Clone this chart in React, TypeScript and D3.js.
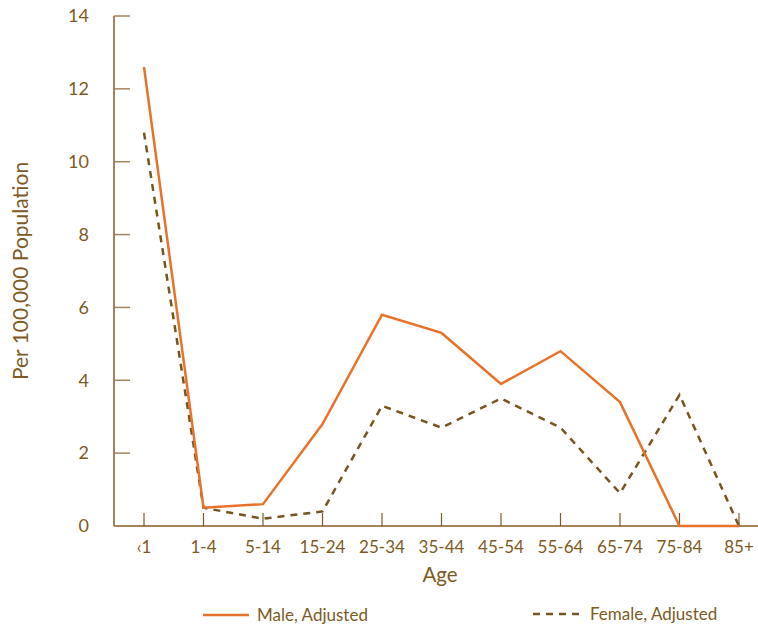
import React from "react";
import * as d3 from "d3";

const categories = ["‹1", "1-4", "5-14", "15-24", "25-34", "35-44", "45-54", "55-64", "65-74", "75-84", "85+"];
const maleValues = [12.6, 0.5, 0.6, 2.8, 5.8, 5.3, 3.9, 4.8, 3.4, 0, 0];
const femaleValues = [10.8, 0.5, 0.2, 0.4, 3.3, 2.7, 3.5, 2.7, 0.9, 3.6, 0];
const yTicks = [0, 2, 4, 6, 8, 10, 12, 14];

const W = 758, H = 627;
const axisColor = "#a3835a";
const textColor = "#7d5a24";
const maleColor = "#e8722a";
const femaleColor = "#76561f";
const font = "Lato, 'Open Sans', sans-serif";

export default function App() {
  const x = d3.scalePoint<string>().domain(categories).range([144, 739]);
  const y = d3.scaleLinear().domain([0, 14]).range([526, 16]);
  const line = d3.line<number>().x((_, i) => x(categories[i]) as number).y((d) => y(d));

  return (
    <svg width={W} height={H} style={{ position: "absolute", left: 0, top: 0 }} fontFamily={font}>
      {/* y axis */}
      <line x1={114} x2={114} y1={y(14)} y2={y(0)} stroke={axisColor} strokeWidth={2} />
      {yTicks.map((t) => (
        <g key={t}>
          <line x1={114} x2={130} y1={y(t)} y2={y(t)} stroke={axisColor} strokeWidth={1.5} />
          <text x={89} y={y(t)} dy="0.35em" textAnchor="end" fontSize={18} fill={textColor}>{t}</text>
        </g>
      ))}
      {/* x axis */}
      <line x1={114} x2={758} y1={y(0)} y2={y(0)} stroke={axisColor} strokeWidth={2} />
      {categories.map((c) => (
        <g key={c}>
          <line x1={x(c)} x2={x(c)} y1={y(0)} y2={y(0) - 13} stroke={textColor} strokeWidth={1.2} />
          <text x={x(c)} y={553} textAnchor="middle" fontSize={17} fill={textColor}>{c}</text>
        </g>
      ))}
      <text x={440} y={582} textAnchor="middle" fontSize={20.5} fill={textColor}>Age</text>
      <text transform={`translate(28,271) rotate(-90)`} textAnchor="middle" fontSize={21} fill={textColor}>Per 100,000 Population</text>

      {/* series */}
      <path d={line(femaleValues) || ""} fill="none" stroke={femaleColor} strokeWidth={2.5} strokeDasharray="7,6" />
      <path d={line(maleValues) || ""} fill="none" stroke={maleColor} strokeWidth={2.5} />

      {/* legend */}
      <line x1={203} x2={249} y1={615} y2={615} stroke={maleColor} strokeWidth={2.5} />
      <text x={257} y={615} dy="0.35em" fontSize={17} fill={textColor}>Male, Adjusted</text>
      <line x1={533} x2={580} y1={614} y2={614} stroke={femaleColor} strokeWidth={2.5} strokeDasharray="7,6" />
      <text x={590} y={614} dy="0.35em" fontSize={17} fill={textColor}>Female, Adjusted</text>
    </svg>
  );
}
